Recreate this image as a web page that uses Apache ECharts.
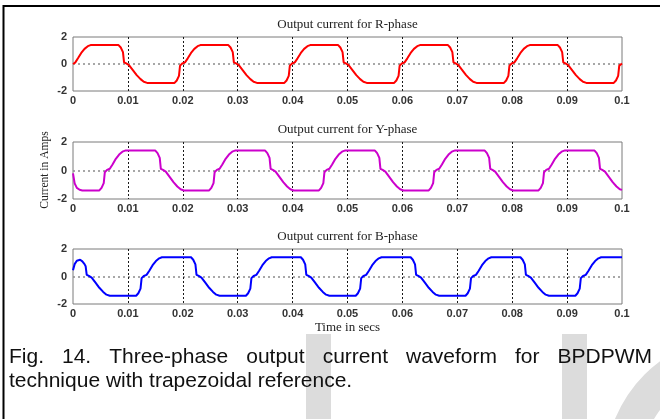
<!DOCTYPE html>
<html><head><meta charset="utf-8">
<script src="https://cdn.jsdelivr.net/npm/echarts@6/dist/echarts.min.js"></script>
<style>html,body{margin:0;padding:0;background:#fff}#c{width:660px;height:419px}</style>
</head><body><div id="c"></div>
<script>
// ---- data ----
const xTicks = [0, 0.01, 0.02, 0.03, 0.04, 0.05, 0.06, 0.07, 0.08, 0.09, 0.1];
const yTicks = [-2, 0, 2];
const titles = ['Output current for R-phase', 'Output current for Y-phase', 'Output current for B-phase'];

const rPhase = [[0,0],[0.0004,0.1],[0.0009,0.42],[0.0015,0.82],[0.0021,1.12],[0.0027,1.32],[0.0032,1.4],[0.0083,1.4],[0.0087,1.22],[0.0091,0.88],[0.0093,0.12],[0.0097,0.04],[0.0102,-0.08],[0.0109,-0.45],[0.0116,-0.82],[0.0123,-1.12],[0.0129,-1.32],[0.0135,-1.4],[0.0185,-1.4],[0.0189,-1.22],[0.0193,-0.88],[0.0195,-0.12],[0.0199,0.04],
[0.0204,0.12],[0.0209,0.42],[0.0215,0.82],[0.0221,1.12],[0.0227,1.32],[0.0232,1.4],[0.0283,1.4],[0.0287,1.22],[0.0291,0.88],[0.0293,0.12],[0.0297,0.04],[0.0302,-0.08],[0.0309,-0.45],[0.0316,-0.82],[0.0323,-1.12],[0.0329,-1.32],[0.0335,-1.4],[0.0385,-1.4],[0.0389,-1.22],[0.0393,-0.88],[0.0395,-0.12],[0.0399,0.04],
[0.0404,0.12],[0.0409,0.42],[0.0415,0.82],[0.0421,1.12],[0.0427,1.32],[0.0432,1.4],[0.0483,1.4],[0.0487,1.22],[0.0491,0.88],[0.0493,0.12],[0.0497,0.04],[0.0502,-0.08],[0.0509,-0.45],[0.0516,-0.82],[0.0523,-1.12],[0.0529,-1.32],[0.0535,-1.4],[0.0585,-1.4],[0.0589,-1.22],[0.0593,-0.88],[0.0595,-0.12],[0.0599,0.04],
[0.0604,0.12],[0.0609,0.42],[0.0615,0.82],[0.0621,1.12],[0.0627,1.32],[0.0632,1.4],[0.0683,1.4],[0.0687,1.22],[0.0691,0.88],[0.0693,0.12],[0.0697,0.04],[0.0702,-0.08],[0.0709,-0.45],[0.0716,-0.82],[0.0723,-1.12],[0.0729,-1.32],[0.0735,-1.4],[0.0785,-1.4],[0.0789,-1.22],[0.0793,-0.88],[0.0795,-0.12],[0.0799,0.04],
[0.0804,0.12],[0.0809,0.42],[0.0815,0.82],[0.0821,1.12],[0.0827,1.32],[0.0832,1.4],[0.0883,1.4],[0.0887,1.22],[0.0891,0.88],[0.0893,0.12],[0.0897,0.04],[0.0902,-0.08],[0.0909,-0.45],[0.0916,-0.82],[0.0923,-1.12],[0.0929,-1.32],[0.0935,-1.4],[0.0985,-1.4],[0.0989,-1.22],[0.0993,-0.88],[0.0995,-0.12],[0.1,0.04]];

const yPhase = [[0,-0.2],[0.0003,-0.9],[0.0007,-1.22],[0.0012,-1.35],[0.0017,-1.4],
[0.0048,-1.4],[0.0052,-1.22],[0.0056,-0.88],[0.0058,-0.12],[0.0062,0.04],[0.0067,0.12],[0.0072,0.42],[0.0078,0.82],[0.0084,1.12],[0.009,1.32],[0.0095,1.4],[0.015,1.4],[0.0154,1.22],[0.0158,0.88],[0.016,0.12],[0.0164,0.04],[0.0169,-0.08],[0.0176,-0.45],[0.0183,-0.82],[0.019,-1.12],[0.0196,-1.32],[0.0202,-1.4],
[0.0248,-1.4],[0.0252,-1.22],[0.0256,-0.88],[0.0258,-0.12],[0.0262,0.04],[0.0267,0.12],[0.0272,0.42],[0.0278,0.82],[0.0284,1.12],[0.029,1.32],[0.0295,1.4],[0.035,1.4],[0.0354,1.22],[0.0358,0.88],[0.036,0.12],[0.0364,0.04],[0.0369,-0.08],[0.0376,-0.45],[0.0383,-0.82],[0.039,-1.12],[0.0396,-1.32],[0.0402,-1.4],
[0.0448,-1.4],[0.0452,-1.22],[0.0456,-0.88],[0.0458,-0.12],[0.0462,0.04],[0.0467,0.12],[0.0472,0.42],[0.0478,0.82],[0.0484,1.12],[0.049,1.32],[0.0495,1.4],[0.055,1.4],[0.0554,1.22],[0.0558,0.88],[0.056,0.12],[0.0564,0.04],[0.0569,-0.08],[0.0576,-0.45],[0.0583,-0.82],[0.059,-1.12],[0.0596,-1.32],[0.0602,-1.4],
[0.0648,-1.4],[0.0652,-1.22],[0.0656,-0.88],[0.0658,-0.12],[0.0662,0.04],[0.0667,0.12],[0.0672,0.42],[0.0678,0.82],[0.0684,1.12],[0.069,1.32],[0.0695,1.4],[0.075,1.4],[0.0754,1.22],[0.0758,0.88],[0.076,0.12],[0.0764,0.04],[0.0769,-0.08],[0.0776,-0.45],[0.0783,-0.82],[0.079,-1.12],[0.0796,-1.32],[0.0802,-1.4],
[0.0848,-1.4],[0.0852,-1.22],[0.0856,-0.88],[0.0858,-0.12],[0.0862,0.04],[0.0867,0.12],[0.0872,0.42],[0.0878,0.82],[0.0884,1.12],[0.089,1.32],[0.0895,1.4],[0.095,1.4],[0.0954,1.22],[0.0958,0.88],[0.096,0.12],[0.0964,0.04],[0.0969,-0.08],[0.0976,-0.45],[0.0983,-0.82],[0.099,-1.12],[0.0996,-1.32],[0.1,-1.36]];

const bPhase = [[0,0.45],[0.0003,0.9],[0.0007,1.15],[0.001,1.25],[0.0013,1.22],[0.0017,1.1],[0.0021,0.9],[0.0023,0.75],[0.0025,0.12],[0.0029,0.04],[0.0034,-0.08],[0.0041,-0.45],[0.0048,-0.82],[0.0055,-1.12],[0.0061,-1.32],[0.0067,-1.4],
[0.0115,-1.4],[0.0119,-1.22],[0.0123,-0.88],[0.0125,-0.12],[0.0129,0.04],[0.0134,0.12],[0.0139,0.42],[0.0145,0.82],[0.0151,1.12],[0.0157,1.32],[0.0162,1.4],[0.0215,1.4],[0.0219,1.22],[0.0223,0.88],[0.0225,0.12],[0.0229,0.04],[0.0234,-0.08],[0.0241,-0.45],[0.0248,-0.82],[0.0255,-1.12],[0.0261,-1.32],[0.0267,-1.4],
[0.0315,-1.4],[0.0319,-1.22],[0.0323,-0.88],[0.0325,-0.12],[0.0329,0.04],[0.0334,0.12],[0.0339,0.42],[0.0345,0.82],[0.0351,1.12],[0.0357,1.32],[0.0362,1.4],[0.0415,1.4],[0.0419,1.22],[0.0423,0.88],[0.0425,0.12],[0.0429,0.04],[0.0434,-0.08],[0.0441,-0.45],[0.0448,-0.82],[0.0455,-1.12],[0.0461,-1.32],[0.0467,-1.4],
[0.0515,-1.4],[0.0519,-1.22],[0.0523,-0.88],[0.0525,-0.12],[0.0529,0.04],[0.0534,0.12],[0.0539,0.42],[0.0545,0.82],[0.0551,1.12],[0.0557,1.32],[0.0562,1.4],[0.0615,1.4],[0.0619,1.22],[0.0623,0.88],[0.0625,0.12],[0.0629,0.04],[0.0634,-0.08],[0.0641,-0.45],[0.0648,-0.82],[0.0655,-1.12],[0.0661,-1.32],[0.0667,-1.4],
[0.0715,-1.4],[0.0719,-1.22],[0.0723,-0.88],[0.0725,-0.12],[0.0729,0.04],[0.0734,0.12],[0.0739,0.42],[0.0745,0.82],[0.0751,1.12],[0.0757,1.32],[0.0762,1.4],[0.0815,1.4],[0.0819,1.22],[0.0823,0.88],[0.0825,0.12],[0.0829,0.04],[0.0834,-0.08],[0.0841,-0.45],[0.0848,-0.82],[0.0855,-1.12],[0.0861,-1.32],[0.0867,-1.4],
[0.0915,-1.4],[0.0919,-1.22],[0.0923,-0.88],[0.0925,-0.12],[0.0929,0.04],[0.0934,0.12],[0.0939,0.42],[0.0945,0.82],[0.0951,1.12],[0.0957,1.32],[0.0962,1.4],[0.1,1.4]];

const phases = [rPhase, yPhase, bPhase];
const colors = ['#ff0000', '#cc00cc', '#0000ff'];
const captionLine1 = ['Fig.', '14.', 'Three-phase', 'output', 'current', 'waveform', 'for', 'BPDPWM'];
const captionLine2 = 'technique with trapezoidal reference.';

// ---- layout ----
const gridTops = [37, 142, 249];
const gridHeights = [54, 57, 55];
const LEFT = 73, RIGHT_EDGE = 622;
const serif = '"Liberation Serif","Times New Roman",serif';
const sans = '"Liberation Sans",Arial,sans-serif';

const grids = [], xAxes = [], yAxes = [], series = [];
for (let i = 0; i < 3; i++) {
  grids.push({left: LEFT, width: RIGHT_EDGE - LEFT, top: gridTops[i], height: gridHeights[i],
    show: true, borderColor: '#7a7a7a', borderWidth: 1, backgroundColor: 'transparent'});
  xAxes.push({type: 'value', gridIndex: i, min: xTicks[0], max: xTicks[xTicks.length - 1], interval: 0.01,
    axisLine: {show: false}, axisTick: {show: false},
    axisLabel: {color: '#333', fontFamily: sans, fontSize: 11, fontWeight: 'bold', margin: 4,
      formatter: v => { const r = Math.round(v * 100) / 100; return String(r); }},
    splitLine: {show: true, lineStyle: {color: ['transparent','#1a1a1a','#1a1a1a','#1a1a1a','#1a1a1a','#1a1a1a','#1a1a1a','#1a1a1a','#1a1a1a','#1a1a1a'], type: [2, 2], width: 1}}});
  yAxes.push({type: 'value', gridIndex: i, min: yTicks[0], max: yTicks[yTicks.length - 1], interval: 2,
    axisLine: {show: false}, axisTick: {show: false},
    axisLabel: {color: '#333', fontFamily: sans, fontSize: 11, fontWeight: 'bold', margin: 6},
    splitLine: {show: true, lineStyle: {color: ['transparent', '#8a8a8a'], type: [2, 3], width: 1.5}}});
  series.push({type: 'line', xAxisIndex: i, yAxisIndex: i, data: phases[i], showSymbol: false,
    lineStyle: {color: colors[i], width: 2}, itemStyle: {color: colors[i]}, clip: true, z: 3});
}

// justified first caption line
const ctx = document.createElement('canvas').getContext('2d');
const capFont = 21;
ctx.font = capFont + 'px ' + sans;
const capLeft = 9, capRight = 652;
const widths = captionLine1.map(w => ctx.measureText(w).width);
const gap = (capRight - capLeft - widths.reduce((a, b) => a + b, 0)) / (captionLine1.length - 1);
const capEls = [];
let cx = capLeft;
captionLine1.forEach((w, k) => {
  capEls.push({type: 'text', x: cx, y: 357, z: 10, style: {text: w, font: capFont + 'px ' + sans, fill: '#111', verticalAlign: 'middle'}});
  cx += widths[k] + gap;
});
capEls.push({type: 'text', x: capLeft, y: 381, z: 10, style: {text: captionLine2, font: capFont + 'px ' + sans, fill: '#111', verticalAlign: 'middle'}});

const graphic = [
  // watermark shapes
  {type: 'rect', z: -1, shape: {x: 306, y: 334, width: 25, height: 90}, style: {fill: '#dcdcdc'}},
  {type: 'rect', z: -1, shape: {x: 562, y: 334, width: 25, height: 90}, style: {fill: '#dcdcdc'}},
  {type: 'ring', z: -1, shape: {cx: 740, cy: 470, r: 135, r0: 100}, style: {fill: '#dcdcdc'}},
  // outer frame
  {type: 'polyline', z: 10, shape: {points: [[3.5, 419], [3.5, 6], [660, 6]]}, style: {stroke: '#000', lineWidth: 2, fill: null}},
  // titles
  ...titles.map((t, i) => ({type: 'text', z: 10, x: (LEFT + RIGHT_EDGE) / 2, y: gridTops[i] - 12,
    style: {text: t, font: '13px ' + serif, fill: '#222', align: 'center', verticalAlign: 'middle'}})),
  {type: 'text', z: 10, x: 45, y: 170, rotation: Math.PI / 2,
    style: {text: 'Current in Amps', font: '11.5px ' + serif, fill: '#222', align: 'center', verticalAlign: 'middle'}},
  {type: 'text', z: 10, x: (LEFT + RIGHT_EDGE) / 2, y: 328,
    style: {text: 'Time in secs', font: '13px ' + serif, fill: '#222', align: 'center', verticalAlign: 'middle'}},
  ...capEls
];

const chart = echarts.init(document.getElementById('c'), null, {renderer: 'canvas'});
chart.setOption({animation: false, backgroundColor: '#fff', grid: grids, xAxis: xAxes, yAxis: yAxes, series, graphic});
</script></body></html>
